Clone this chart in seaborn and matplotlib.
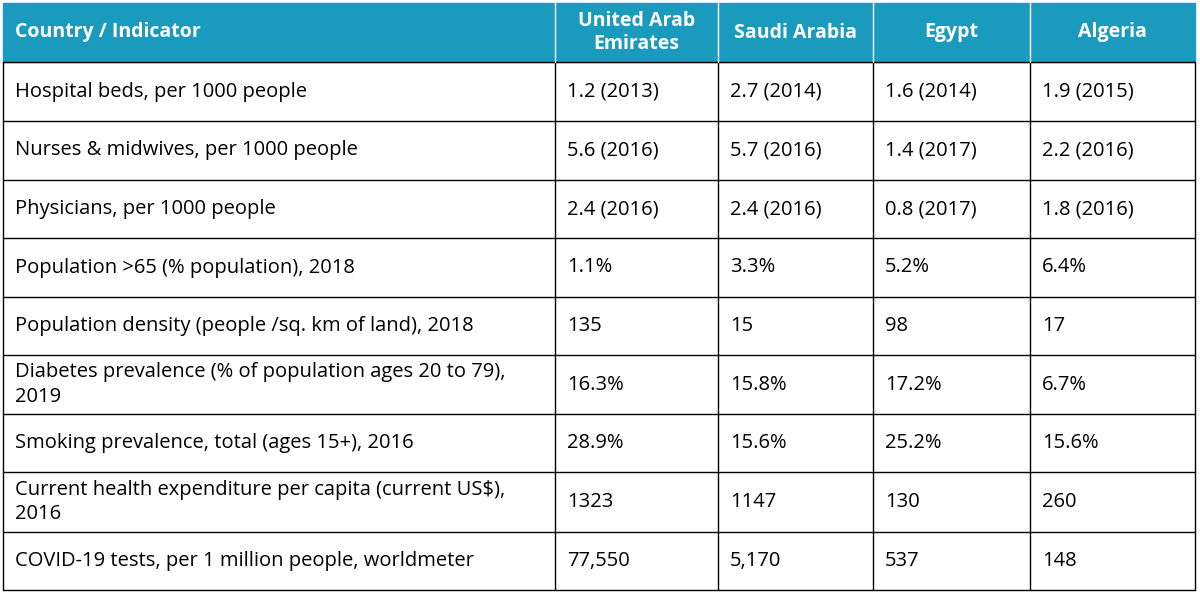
import matplotlib
matplotlib.use("Agg")
import matplotlib.pyplot as plt
import seaborn as sns

countries = ["United Arab\nEmirates", "Saudi Arabia", "Egypt", "Algeria"]
indicators = [
    "Hospital beds, per 1000 people",
    "Nurses & midwives, per 1000 people",
    "Physicians, per 1000 people",
    "Population >65 (% population), 2018",
    "Population density (people /sq. km of land), 2018",
    "Diabetes prevalence (% of population ages 20 to 79),\n2019",
    "Smoking prevalence, total (ages 15+), 2016",
    "Current health expenditure per capita (current US$),\n2016",
    "COVID-19 tests, per 1 million people, worldmeter",
]
uae = ["1.2 (2013)", "5.6 (2016)", "2.4 (2016)", "1.1%", "135", "16.3%", "28.9%", "1323", "77,550"]
saudi = ["2.7 (2014)", "5.7 (2016)", "2.4 (2016)", "3.3%", "15", "15.8%", "15.6%", "1147", "5,170"]
egypt = ["1.6 (2014)", "1.4 (2017)", "0.8 (2017)", "5.2%", "98", "17.2%", "25.2%", "130", "537"]
algeria = ["1.9 (2015)", "2.2 (2016)", "1.8 (2016)", "6.4%", "17", "6.7%", "15.6%", "260", "148"]

sns.set_theme(style="white", font="Open Sans")
fig = plt.figure(figsize=(12, 5.95), dpi=100)
ax = fig.add_axes([0, 0, 1, 1])
ax.set_xlim(0, 1200)
ax.set_ylim(595, 0)
ax.axis("off")

col_x = [3, 555, 718, 873, 1030, 1195]
row_y = [3, 62, 121, 180, 238, 297, 355, 414, 472, 532, 590]
teal = "#1a9bbd"

ax.add_patch(plt.Rectangle((col_x[0], row_y[0]), col_x[-1] - col_x[0], row_y[1] - row_y[0],
                           color=teal, zorder=0))
# header
ax.text(15, (row_y[0] + row_y[1]) / 2, "Country / Indicator", color="white",
        fontsize=14, fontweight="bold", va="center", ha="left")
for i, c in enumerate(countries):
    ax.text((col_x[i + 1] + col_x[i + 2]) / 2, (row_y[0] + row_y[1]) / 2, c, color="white",
            fontsize=14, fontweight="bold", va="center", ha="center", linespacing=1.25)

cols = [uae, saudi, egypt, algeria]
for r, name in enumerate(indicators):
    yc = (row_y[r + 1] + row_y[r + 2]) / 2
    ax.text(15, yc, name, fontsize=14.5, va="center", ha="left", color="black", linespacing=1.3)
    for j, vals in enumerate(cols):
        ax.text(col_x[j + 1] + 12, yc, vals[r], fontsize=14.5, va="center", ha="left", color="black")

# grid lines
for y in row_y[1:]:
    ax.plot([col_x[0], col_x[-1]], [y, y], color="black", lw=1)
for x in col_x:
    ax.plot([x, x], [row_y[1], row_y[-1]], color="black", lw=1)
    if x not in (col_x[0], col_x[-1]):
        ax.plot([x, x], [row_y[0], row_y[1]], color="white", lw=1)

fig.savefig("out.png", dpi=100)
